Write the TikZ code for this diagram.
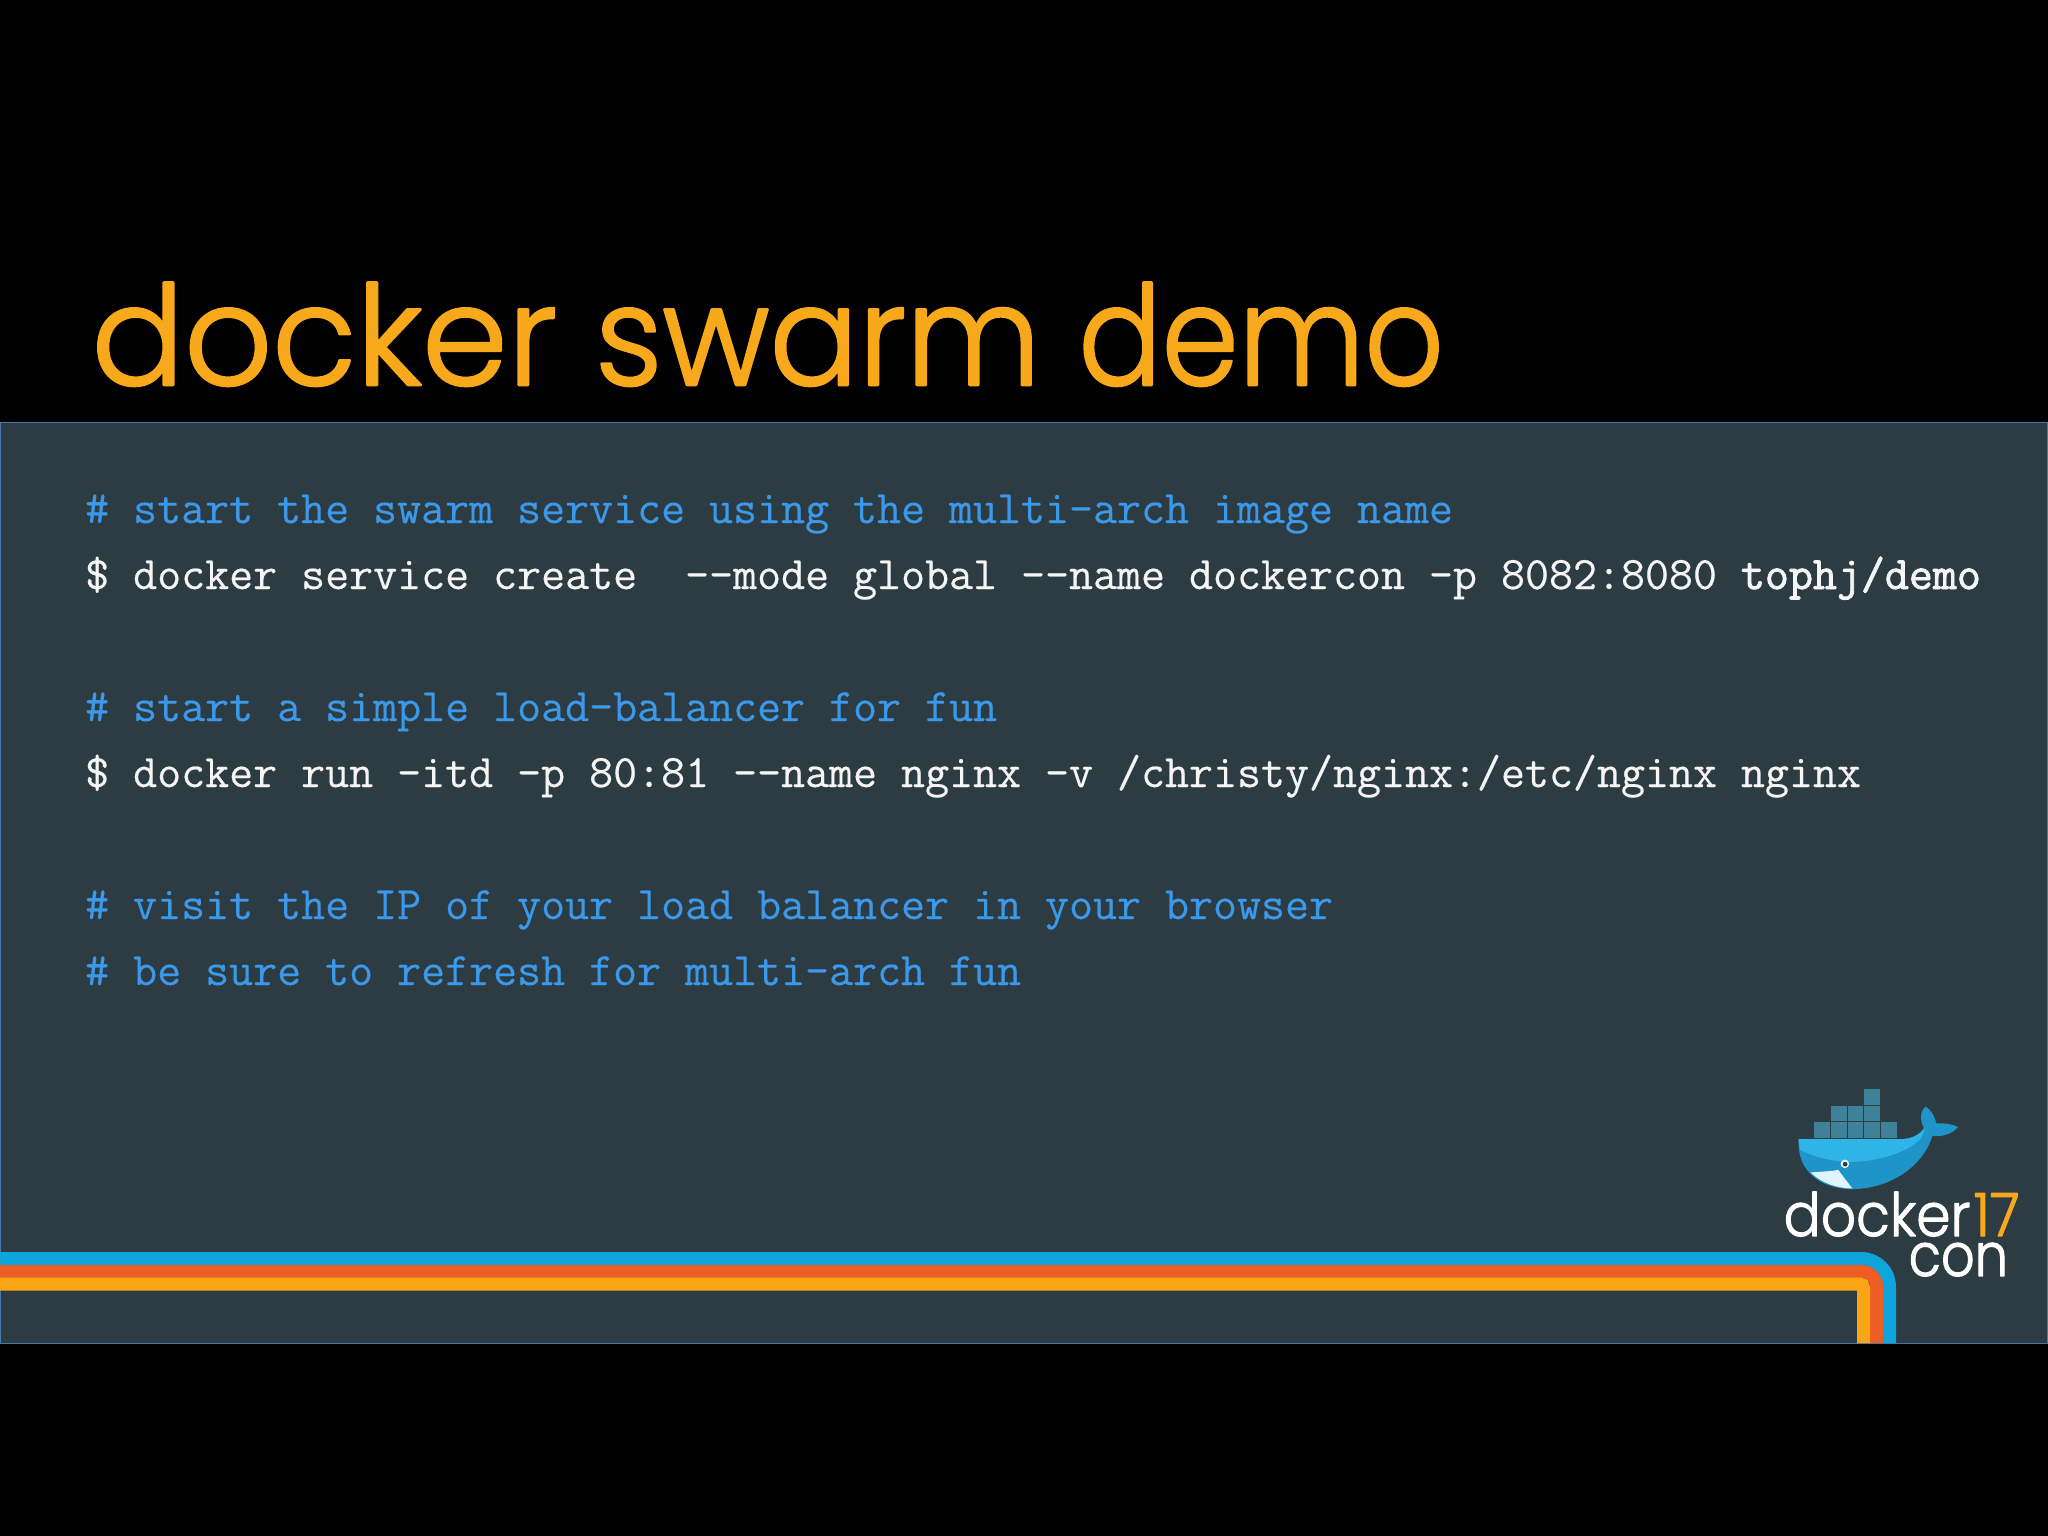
\documentclass[tikz,border=0pt]{standalone}
\usepackage{fontspec}
\usepackage{graphicx}
\usetikzlibrary{calc}
\newfontfamily\titlefont[FakeBold=1.8]{Poppins Light}
\newfontfamily\codefont[FakeBold=0.35]{Latin Modern Mono}
\newfontfamily\codebold[FakeBold=1.8]{Latin Modern Mono}
\newcommand{\roundstroke}{\special{pdf:code 1 j 1 J}}
\definecolor{panelbg}{HTML}{2D3B42}
\definecolor{panelline}{HTML}{4A78A8}
\definecolor{titleor}{HTML}{F7A81B}
\definecolor{comment}{HTML}{3C98E8}
\definecolor{cmd}{HTML}{F5F5F5}
\definecolor{stripeb}{HTML}{0EA5DC}
\definecolor{striper}{HTML}{EE5E24}
\definecolor{stripeo}{HTML}{FBA516}
\definecolor{box}{HTML}{3F8199}
\definecolor{whalea}{HTML}{1E94C8}
\definecolor{whaleb}{HTML}{2FB4E8}
\tikzset{
 codeline/.style={anchor=base west,inner sep=0pt,font=\codefont\fontsize{13.25}{15}\selectfont},
 commentline/.style={codeline,text=comment},
 cmdline/.style={codeline,text=cmd},
 stripe/.style={line width=0.13cm,rounded corners=#1},
 cargo/.style={fill=box,draw=none},
 logotext/.style={anchor=base west,inner sep=0pt,font=\titlefont\fontsize{17}{18}\selectfont}
}
\begin{document}
\begin{tikzpicture}[x=0.01cm,y=-0.01cm]
\useasboundingbox (0,0) rectangle (2048,1536);
\fill[black] (0,0) rectangle (2048,1536);
\node[anchor=base west,inner sep=0pt,text=titleor,font=\titlefont\fontsize{39.4}{42}\selectfont] (title) at (91,385) {\roundstroke\scalebox{0.99}[1]{docker} \scalebox{0.95}[1]{swarm} \scalebox{0.89}[1]{demo}};
\draw[panelline,fill=panelbg,line width=0.015cm] (0,422.5) rectangle (2048,1343.5);
\node[commentline] (l1) at (84.5,523) {\# start the swarm service using the multi-arch image name};
\node[cmdline] (l2) at (84.5,589) {\$ docker service create\ \ --mode global --name dockercon -p 8082:8080 {\codebold\fontsize{13.25}{15}\selectfont tophj/demo}};
\node[commentline] (l3) at (84.5,721) {\# start a simple load-balancer for fun};
\node[cmdline] (l4) at (84.5,787) {\$ docker run -itd -p 80:81 --name nginx -v /christy/nginx:/etc/nginx nginx};
\node[commentline] (l5) at (84.5,919) {\# visit the IP of your load balancer in your browser};
\node[commentline] (l6) at (84.5,985) {\# be sure to refresh for multi-arch fun};
% stripes
\draw[stripe=8pt,draw=stripeb] (0,1258.5) -- (1889.5,1258.5) -- (1889.5,1343);
\draw[stripe=4.3pt,draw=striper] (0,1271.5) -- (1876.5,1271.5) -- (1876.5,1343);
\draw[stripe=1pt,draw=stripeo] (0,1284) -- (1863.5,1284) -- (1863.5,1343);
% whale
\begin{scope}[shift={(1740,1060)},x=0.003333cm,y=-0.003333cm]
\foreach \xa/\xb/\ya/\yb in {222/270/186/234,273/322/186/234,323/371/186/234,373/422/186/234,423/472/186/234,273/322/138/184,323/371/138/184,373/422/138/184,373/422/86/135}
 \fill[cargo] (\xa,\ya) rectangle (\xb,\yb);
\fill[whalea] (176,238) -- (480,238) .. controls (515,238) and (540,225) .. (553,205)
 .. controls (540,180) and (540,155) .. (558,140) .. controls (575,150) and (585,170) .. (590,190)
 .. controls (610,190) and (635,190) .. (655,202) .. controls (635,225) and (600,232) .. (578,228)
 .. controls (550,320) and (450,388) .. (335,388) .. controls (250,388) and (170,340) .. (176,238) -- cycle;
\fill[whaleb] (176,238) -- (480,238) .. controls (515,238) and (540,225) .. (553,205)
 .. controls (555,250) and (480,285) .. (400,300) .. controls (320,315) and (240,300) .. (180,270) -- cycle;
\fill[white!85!whaleb] (212,338) .. controls (240,335) and (275,335) .. (295,330) .. controls (310,350) and (325,370) .. (338,386) .. controls (290,385) and (245,370) .. (212,338) -- cycle;
\fill[white!85!whaleb] (315,312) circle (13);
\fill[panelbg] (316,313) circle (7);
\end{scope}
\node[logotext,text=white] (lgd) at (1783,1236) {\roundstroke\scalebox{0.92}[1]{docker}};
\node[logotext,text=titleor] (lgn) at (1973,1236) {\roundstroke\scalebox{0.93}[1]{17}};
\node[logotext,text=white] (lgc) at (1908,1276) {\roundstroke\scalebox{0.88}[1]{con}};
\end{tikzpicture}
\end{document}
